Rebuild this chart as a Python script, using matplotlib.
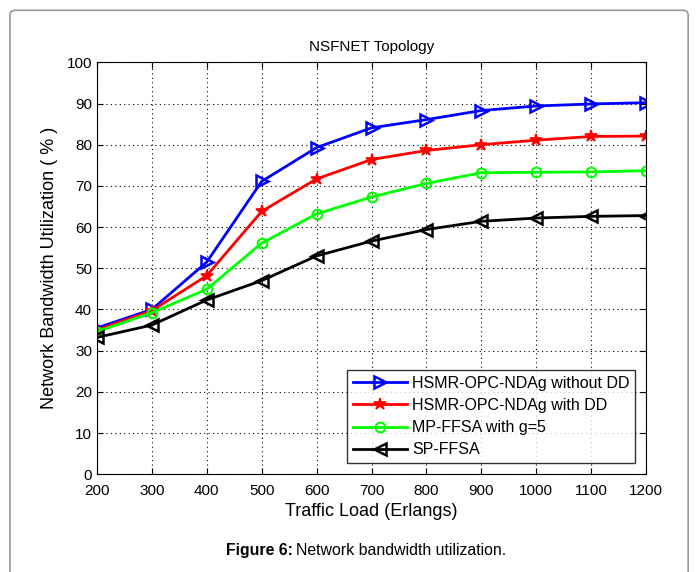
import numpy as np
import matplotlib.pyplot as plt
from matplotlib.patches import FancyBboxPatch

plt.rcParams['font.family'] = ['Liberation Sans', 'DejaVu Sans']

load = [200, 300, 400, 500, 600, 700, 800, 900, 1000, 1100, 1200]
hsmr_no_dd = [35.5, 40.0, 51.5, 71.1, 79.3, 84.1, 86.1, 88.3, 89.4, 89.9, 90.2]
hsmr_dd = [35.0, 39.7, 48.2, 63.8, 71.7, 76.4, 78.6, 80.0, 81.1, 82.0, 82.1]
mp_ffsa = [34.6, 39.2, 44.9, 56.1, 63.2, 67.3, 70.6, 73.2, 73.3, 73.4, 73.7]
sp_ffsa = [33.2, 36.2, 42.3, 47.0, 53.0, 56.6, 59.4, 61.4, 62.2, 62.6, 62.8]

labels = ['HSMR-OPC-NDAg without DD', 'HSMR-OPC-NDAg with DD',
          'MP-FFSA with g=5', 'SP-FFSA']

fig = plt.figure(figsize=(6.97, 5.72), dpi=100)

# rounded frame around the figure
frame = FancyBboxPatch((0.0143, -0.05), 0.973, 1.032, boxstyle="round,pad=0,rounding_size=0.008",
                       transform=fig.transFigure, facecolor='none', edgecolor='#9a9a9a', lw=1.2,
                       zorder=-1)
fig.patches.append(frame)

ax = fig.add_axes([0.139, 0.171, 0.788, 0.720])

ax.plot(load, hsmr_no_dd, color='#0000ff', lw=2, marker='>', ms=9, mfc='none', mew=1.8, label=labels[0])
ax.plot(load, hsmr_dd, color='#ff0000', lw=2, marker='*', ms=9, mfc='#ff0000', mew=1.2, label=labels[1])
ax.plot(load, mp_ffsa, color='#00ff00', lw=2, marker='o', ms=7, mfc='none', mew=1.5, label=labels[2])
ax.plot(load, sp_ffsa, color='black', lw=2, marker='<', ms=9, mfc='none', mew=1.8, label=labels[3])

ax.set_xlim(200, 1200)
ax.set_ylim(0, 100)
ax.set_xticks(load)
ax.set_yticks(np.arange(0, 101, 10))
ax.tick_params(direction='in', top=True, right=True, labelsize=11, length=4)
ax.tick_params(axis='x', pad=7)
ax.grid(True, linestyle=(0, (1, 3)), color='black', lw=0.8)

ax.set_title('NSFNET Topology', fontsize=11, pad=8)
ax.set_xlabel('Traffic Load (Erlangs)', fontsize=13, labelpad=4)
ax.set_ylabel('Network Bandwidth Utilization ( % )', fontsize=13, labelpad=6)

leg = ax.legend(loc='lower right', fontsize=11.5, frameon=True, fancybox=False,
                edgecolor='black', handlelength=3.4, borderaxespad=0.7,
                labelspacing=0.45, handletextpad=0.3, borderpad=0.35)
leg.get_frame().set_linewidth(1)

fig.text(0.420, 0.038, 'Figure 6:', fontsize=11.4, fontweight='bold', ha='right', va='center')
fig.text(0.424, 0.038, 'Network bandwidth utilization.', fontsize=11.4, ha='left', va='center')

fig.savefig('out.png', dpi=100)
